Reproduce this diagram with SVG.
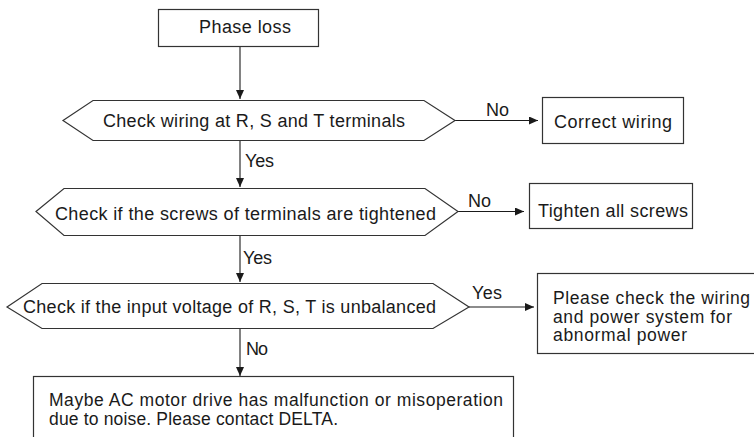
<svg xmlns="http://www.w3.org/2000/svg" width="754" height="437" viewBox="0 0 754 437">
<defs>
<marker id="ah" markerWidth="9" markerHeight="8" refX="9" refY="4" orient="auto" markerUnits="userSpaceOnUse">
<path d="M0,0 L9,4 L0,8 z" fill="#1a1a1a"/>
</marker>
<style>
.n{fill:#fff;stroke:#333;stroke-width:1.2}
.t{font-family:"Liberation Sans",Arial,sans-serif;font-size:18px;fill:#1a1a1a}
.s{font-size:17.5px}
.c{fill:none;stroke:#1a1a1a;stroke-width:1.1;marker-end:url(#ah)}
</style>
</defs>
<rect width="754" height="437" fill="#fff"/>
<g id="connectors">
<line class="c" x1="240" y1="46" x2="240" y2="99"/>
<line class="c" x1="240" y1="140" x2="240" y2="187"/>
<line class="c" x1="240" y1="235" x2="240" y2="282"/>
<line class="c" x1="240" y1="328" x2="240" y2="376"/>
<line class="c" x1="455" y1="120.5" x2="538" y2="120.5"/>
<line class="c" x1="458" y1="211.5" x2="524" y2="211.5"/>
<line class="c" x1="469" y1="307" x2="534" y2="307"/>
<text class="t" x="486" y="116" textLength="23">No</text>
<text class="t" x="245" y="167" textLength="29">Yes</text>
<text class="t" x="468" y="207" textLength="23">No</text>
<text class="t" x="243" y="264" textLength="29">Yes</text>
<text class="t" x="472" y="299" textLength="30">Yes</text>
<text class="t" x="246" y="355" textLength="22">No</text>
</g>
<g id="phase-loss">
<rect class="n" x="158.5" y="9.5" width="160" height="37"/>
<text class="t" x="199" y="33" textLength="92">Phase loss</text>
</g>
<g id="check-wiring">
<polygon class="n" points="63,120.5 93,100.5 424,100.5 455,120.5 424,140.5 93,140.5"/>
<text class="t" x="103" y="127" textLength="302">Check wiring at R, S and T terminals</text>
</g>
<g id="correct-wiring">
<rect class="n" x="542.5" y="97.5" width="141" height="46"/>
<text class="t" x="554" y="128" textLength="118">Correct wiring</text>
</g>
<g id="check-screws">
<polygon class="n" points="36,211.5 64,188.5 425,188.5 458,211.5 425,235.5 64,235.5"/>
<text class="t" x="55" y="220" textLength="381">Check if the screws of terminals are tightened</text>
</g>
<g id="tighten-screws">
<rect class="n" x="529.5" y="183.5" width="163" height="45"/>
<text class="t" x="538" y="217" textLength="150">Tighten all screws</text>
</g>
<g id="check-voltage">
<polygon class="n" points="7,307 42,283.5 433,283.5 469,307 433,328.5 42,328.5"/>
<text class="t" x="23" y="313" textLength="413">Check if the input voltage of R, S, T is unbalanced</text>
</g>
<g id="check-power">
<rect class="n" x="537.5" y="273.5" width="230" height="80"/>
<text class="t s" x="553" y="304" textLength="197">Please check the wiring</text>
<text class="t s" x="553" y="322.5" textLength="179">and power system for</text>
<text class="t s" x="553" y="341" textLength="134">abnormal power</text>
</g>
<g id="contact-delta">
<rect class="n" x="33.5" y="376.5" width="480" height="80"/>
<text class="t s" x="49" y="405.5" textLength="454">Maybe AC motor drive has malfunction or misoperation</text>
<text class="t s" x="49" y="424.5" textLength="289">due to noise. Please contact DELTA.</text>
</g>
</svg>
